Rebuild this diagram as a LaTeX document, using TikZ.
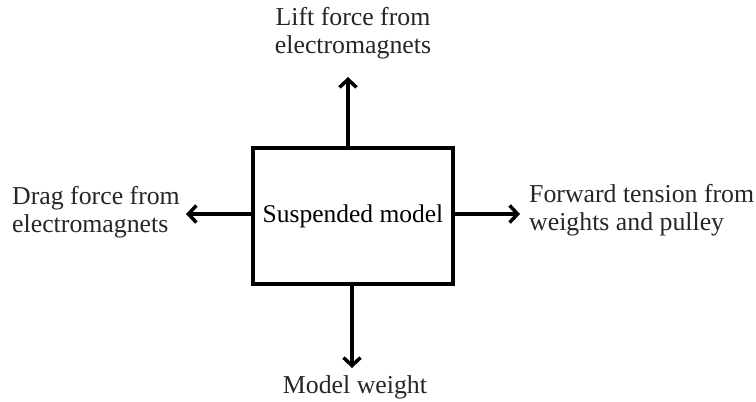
\documentclass[tikz,border=0pt]{standalone}
\usepackage{fontspec}
\setmainfont{Liberation Serif}
\usetikzlibrary{arrows.meta}
\begin{document}
\begin{tikzpicture}[x=1pt,y=1pt,
  lbl/.style={inner sep=0pt,font=\fontsize{25.8}{28.5}\selectfont,text=black!85},
  force/.style={line width=3.5pt,-{Straight Barb[length=8pt,width=17pt]}},
  boxstyle/.style={draw,line width=3.5pt,minimum width=200pt,minimum height=136pt,inner sep=0pt,font=\fontsize{25.5}{28}\selectfont}]
\useasboundingbox (0,0) rectangle (756,402);
\node[boxstyle] (box) at (353,186) {Suspended model};
\coordinate (topTip) at (348,325);
\coordinate (botTip) at (352,34);
\coordinate (leftTip) at (186,188);
\coordinate (rightTip) at (520,188);
\draw[force] (box.north -| topTip) -- (topTip);
\draw[force] (box.south -| botTip) -- (botTip);
\draw[force] (box.west |- leftTip) -- (leftTip);
\draw[force] (box.east |- rightTip) -- (rightTip);
\node[lbl,align=center] (lift) at (353,369) {Lift force from\\electromagnets};
\node[lbl] (weight) at (355,15) {Model weight};
\node[lbl,align=left,anchor=west] (drag) at (12,190) {Drag force from\\electromagnets};
\node[lbl,align=left,anchor=west] (fwd) at (529,192) {Forward tension from\\weights and pulley};
\end{tikzpicture}
\end{document}
